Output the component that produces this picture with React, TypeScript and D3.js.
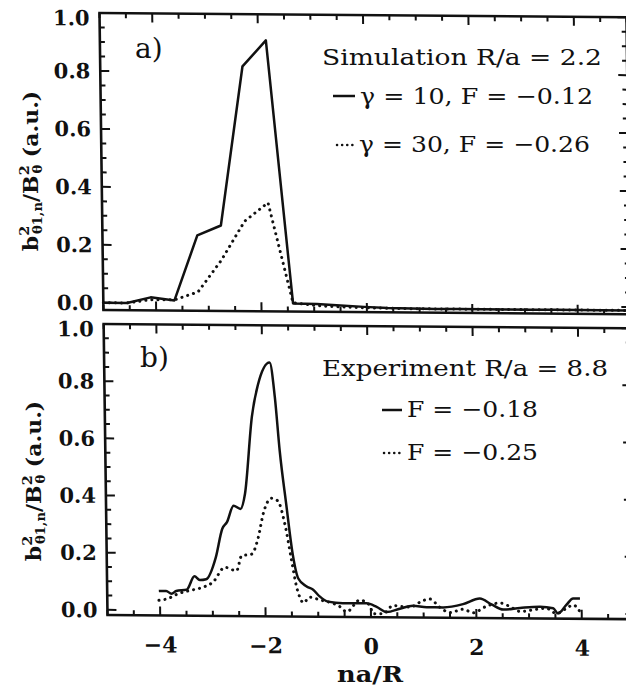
import React from 'react';
import * as d3 from 'd3';

// ---------- data ----------
// panel a) simulation, na/R grid
const topX = [-5, -4.55, -4.1, -3.65, -3.2, -2.75, -2.3, -1.85, -1.4, -0.95, -0.5, -0.05, 0.4, 0.85, 1.3, 1.75, 2.2, 2.65, 3.1, 3.55, 4.0, 4.45, 4.9, 5.0];
const topSolid = [0.0, 0.0, 0.02, 0.01, 0.235, 0.27, 0.82, 0.91, 0.003, 0.002, -0.003, -0.007, -0.01, -0.011, -0.012, -0.012, -0.012, -0.012, -0.012, -0.012, -0.012, -0.012, -0.012, -0.012];
const topDotted = [0.0, 0.0, 0.012, 0.012, 0.04, 0.15, 0.285, 0.35, 0.005, -0.004, -0.008, -0.01, -0.011, -0.012, -0.012, -0.012, -0.012, -0.012, -0.012, -0.012, -0.012, -0.012, -0.012, -0.012];

// panel b) experiment
const botSolidX = [-4.02, -3.88, -3.78, -3.69, -3.49, -3.34, -3.24, -3.12, -2.93, -2.8, -2.71, -2.58, -2.45, -2.36, -2.21, -2.09, -1.86, -1.77, -1.69, -1.58, -1.47, -1.37, -1.22, -1.09, -0.97, -0.81, -0.53, -0.08, 0.11, 0.3, 0.55, 0.8, 1.06, 1.37, 1.75, 2.07, 2.29, 2.51, 2.83, 3.21, 3.46, 3.55, 3.71, 3.84, 3.97];
const botSolidY = [0.067, 0.068, 0.058, 0.068, 0.073, 0.12, 0.107, 0.11, 0.187, 0.287, 0.31, 0.368, 0.357, 0.41, 0.68, 0.79, 0.87, 0.75, 0.56, 0.374, 0.2, 0.115, 0.088, 0.076, 0.053, 0.035, 0.03, 0.03, 0.018, 0.0, 0.012, 0.023, 0.018, 0.018, 0.03, 0.05, 0.03, 0.012, 0.018, 0.023, 0.018, 0.0, 0.03, 0.053, 0.053];
const botDottedX = [-4.02, -3.85, -3.66, -3.43, -3.18, -2.99, -2.76, -2.54, -2.44, -2.25, -2.12, -2.02, -1.86, -1.74, -1.61, -1.49, -1.4, -1.34, -1.28, -1.16, -0.97, -0.59, -0.46, -0.21, -0.02, 0.04, 0.23, 0.42, 0.74, 0.99, 1.12, 1.31, 1.5, 1.75, 1.94, 2.19, 2.45, 2.64, 2.83, 3.08, 3.33, 3.52, 3.71, 3.84, 3.97];
const botDottedY = [0.035, 0.041, 0.058, 0.07, 0.082, 0.1, 0.152, 0.14, 0.193, 0.199, 0.257, 0.34, 0.395, 0.386, 0.304, 0.175, 0.082, 0.047, 0.03, 0.05, 0.041, 0.018, 0.0, 0.041, 0.023, -0.006, -0.006, 0.023, 0.018, 0.041, 0.047, 0.018, 0.0, 0.012, 0.0, 0.023, 0.035, 0.023, 0.006, 0.012, 0.018, 0.0, 0.018, 0.03, 0.006];

const yTicks = [0, 0.2, 0.4, 0.6, 0.8, 1.0];
const yTickLabels = ['0.0', '0.2', '0.4', '0.6', '0.8', '1.0'];
const xTicks = [-4, -2, 0, 2, 4];
const xTickLabels = ['\u22124', '\u22122', '0', '2', '4'];

const topTitle = 'Simulation R/a = 2.2';
const topLegend = ['\u03b3 = 10, F = \u22120.12', '\u03b3 = 30, F = \u22120.26'];
const botTitle = 'Experiment R/a = 8.8';
const botLegend = ['F = \u22120.18', 'F = \u22120.25'];

// ---------- layout ----------
const W = 626, H = 688;
const X0 = 107.5, X1 = 634.5;
const x = d3.scaleLinear().domain([-5, 5]).range([X0, X1]);
const yTop = d3.scaleLinear().domain([-0.025, 1]).range([310, 13]);
const yBot = d3.scaleLinear().domain([-0.018, 1]).range([615, 324]);
const xMinor = d3.range(-5, 5.001, 0.5);
const yMinor = d3.range(0, 1.0001, 0.05);

const SERIF = '"DejaVu Serif", serif';
const INK = '#111';
const DOTS = { strokeDasharray: '0.1 6', strokeLinecap: 'round' as const, strokeWidth: 3 };

function Panel({ y }: { y: d3.ScaleLinear<number, number> }) {
  const [r0, r1] = y.range();
  return (
    <g>
      <rect x={X0} y={r1} width={X1 - X0} height={r0 - r1} fill="none" stroke={INK} strokeWidth={2.6} />
      {yMinor.map((v, i) => {
        const major = yTicks.some(t => Math.abs(t - v) < 1e-6);
        const L = major ? 9 : 5;
        return (
          <g key={'y' + i} stroke={INK} strokeWidth={2}>
            <line x1={X0} x2={X0 + L} y1={y(v)} y2={y(v)} />
            <line x1={X1} x2={X1 - L} y1={y(v)} y2={y(v)} />
          </g>
        );
      })}
      {xMinor.map((v, i) => {
        const major = xTicks.some(t => Math.abs(t - v) < 1e-6);
        const L = major ? 9 : 5;
        return (
          <g key={'x' + i} stroke={INK} strokeWidth={2}>
            <line x1={x(v)} x2={x(v)} y1={r0} y2={r0 - L} />
            <line x1={x(v)} x2={x(v)} y1={r1} y2={r1 + L} />
          </g>
        );
      })}
      {yTicks.map((v, i) => (
        <text key={'yl' + i} x={X0 - 10} y={y(v) + (v === 1 ? 5 : 0)} dy="0.36em" textAnchor="end"
          fontFamily={SERIF} fontWeight="bold" fontSize={21} fill={INK}>{yTickLabels[i]}</text>
      ))}
    </g>
  );
}

function YTitle({ cx, cy }: { cx: number; cy: number }) {
  return (
    <text transform={`translate(${cx},${cy}) rotate(-90) scale(1.1,1)`} textAnchor="middle"
      fontFamily={SERIF} fontWeight="bold" fontSize={20} fill={INK}>
      b<tspan fontSize={13} dy={-9}>2</tspan><tspan fontSize={12} dx={-7.5} dy={13}>{'\u03b81,n'}</tspan>
      <tspan dy={-4}>/B</tspan><tspan fontSize={13} dy={-9}>2</tspan><tspan fontSize={12} dx={-7.5} dy={13}>{'\u03b8'}</tspan>
      <tspan dy={-4}> (a.u.)</tspan>
    </text>
  );
}

export default function App() {
  const lineTopS = d3.line<number>().x((_, i) => x(topX[i])).y(d => yTop(d));
  const lineTopD = d3.line<number>().x((_, i) => x(topX[i])).y(d => yTop(d));
  const lineBotS = d3.line<number>().x((_, i) => x(botSolidX[i])).y(d => yBot(d)).curve(d3.curveMonotoneX);
  const lineBotD = d3.line<number>().x((_, i) => x(botDottedX[i])).y(d => yBot(d)).curve(d3.curveMonotoneX);

  const skew = `matrix(1,0.008,0.0133,1,${-0.0133 * 615},${-0.008 * 107})`;

  return (
    <svg width={W} height={H} viewBox={`0 0 ${W} ${H}`}
      style={{ position: 'absolute', left: 0, top: 0, background: '#fff' }}>
      <rect x={0} y={0} width={W} height={H} fill="#fff" />
      <g transform={skew}>
        <Panel y={yTop} />
        <Panel y={yBot} />
        <path d={lineTopS(topSolid) || ''} fill="none" stroke={INK} strokeWidth={2.5} strokeLinejoin="round" />
        <path d={lineTopD(topDotted) || ''} fill="none" stroke={INK} {...DOTS} />
        <path d={lineBotS(botSolidY) || ''} fill="none" stroke={INK} strokeWidth={2.5} strokeLinejoin="round" />
        <path d={lineBotD(botDottedY) || ''} fill="none" stroke={INK} {...DOTS} />
        {xTicks.map((v, i) => (
          <text key={'xl' + i} x={x(v)} y={652} textAnchor="middle"
            fontFamily={SERIF} fontWeight="bold" fontSize={22} fill={INK}>{xTickLabels[i]}</text>
        ))}
      </g>

      {/* axis titles */}
      <text x={337} y={682} textLength={66} lengthAdjust="spacingAndGlyphs"
        fontFamily={SERIF} fontWeight="bold" fontSize={22} fill={INK}>na/R</text>
      <YTitle cx={38} cy={171} />
      <YTitle cx={41} cy={481} />

      {/* panel labels */}
      <text x={135} y={58} fontFamily={SERIF} fontSize={28} fill={INK}>a)</text>
      <text x={140} y={367} fontFamily={SERIF} fontSize={28} fill={INK}>b)</text>

      {/* legend a */}
      <g fontFamily={SERIF} fontSize={23} fill={INK}>
        <text x={322} y={65} textLength={280} lengthAdjust="spacingAndGlyphs">{topTitle}</text>
        <line x1={333} x2={355} y1={96} y2={96} stroke={INK} strokeWidth={2.5} />
        <text x={360} y={104} textLength={233} lengthAdjust="spacingAndGlyphs">{topLegend[0]}</text>
        <line x1={337} x2={353} y1={145} y2={145} stroke={INK} {...DOTS} strokeDasharray="0.1 5" strokeWidth={2.5} />
        <text x={359} y={152} textLength={231} lengthAdjust="spacingAndGlyphs">{topLegend[1]}</text>

        <text x={322} y={376} textLength={286} lengthAdjust="spacingAndGlyphs">{botTitle}</text>
        <line x1={382} x2={402} y1={410} y2={410} stroke={INK} strokeWidth={2.5} />
        <text x={407} y={417} textLength={131} lengthAdjust="spacingAndGlyphs">{botLegend[0]}</text>
        <line x1={384} x2={402} y1={453} y2={453} stroke={INK} {...DOTS} strokeDasharray="0.1 5" strokeWidth={2.5} />
        <text x={407} y={460} textLength={131} lengthAdjust="spacingAndGlyphs">{botLegend[1]}</text>
      </g>
    </svg>
  );
}
